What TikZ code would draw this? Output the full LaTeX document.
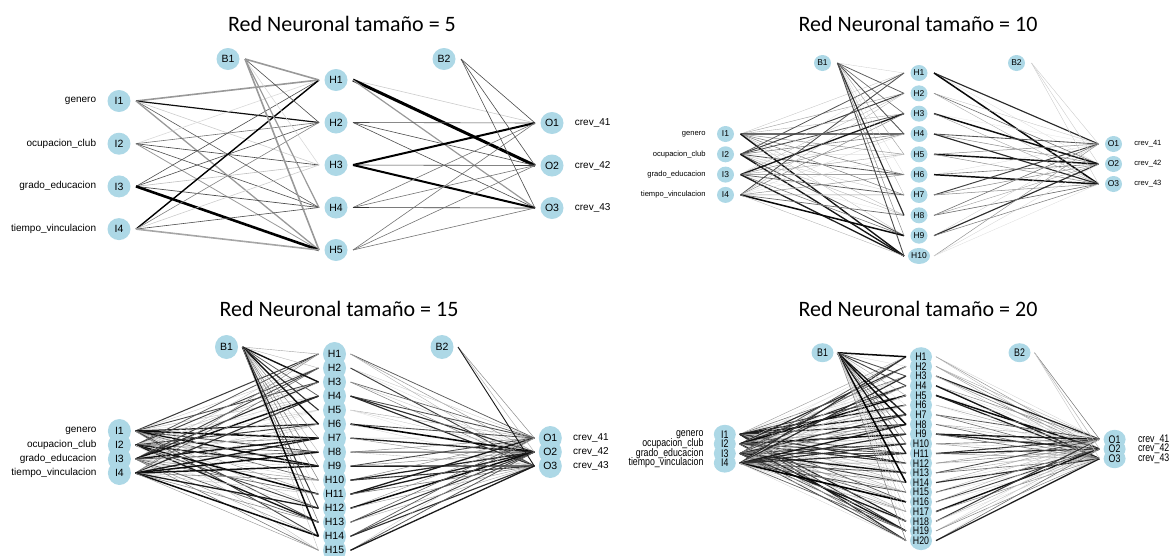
\documentclass[tikz,border=0pt]{standalone}
\usepackage{fontspec}
\setmainfont{Liberation Sans}
\newfontfamily\titlefont{Carlito}
\usetikzlibrary{positioning,shapes.geometric,backgrounds}
\definecolor{neuronblue}{HTML}{ADD8E6}
% narrow lettering for the crowded size-20 net
\newcommand\slimtext[1]{\scalebox{0.8}[1]{#1}}

\begin{document}
\begin{tikzpicture}[x=1pt,y=-1pt,
    neuron/.style={ellipse, fill=neuronblue, inner sep=0pt,
      minimum width=23pt, minimum height=22pt, font=\fontsize{10.5}{10.5}\selectfont},
    varname/.style={inner sep=0pt, font=\fontsize{10}{10}\selectfont},
    heading/.style={font=\titlefont\fontsize{22}{22}\selectfont}]
   \useasboundingbox (0,0) rectangle (1174,555);

   % ---- tamano 5 ----
   \node[heading] at (342,24) {Red Neuronal tamaño = 5};
   \node[neuron] (p5-B1) at (228,59) {B1};
   \node[neuron] (p5-B2) at (444,59) {B2};
   \foreach \v [count=\i] in {genero,ocupacion\_club,grado\_educacion,tiempo\_vinculacion} {
     \node[neuron] (p5-I\i) at (119,{101+(\i-1)*42.7}) {I\i};
     \node[varname, left=11pt of p5-I\i] {\v};
   }
   \foreach \h in {1,...,5}
     \node[neuron] (p5-H\h) at (336,{80+(\h-1)*42.5}) {H\h};
   \foreach \o in {1,2,3} {
     \node[neuron] (p5-O\o) at (552,{123+(\o-1)*42.5}) {O\o};
     \node[varname, right=11pt of p5-O\o] {crev\_4\o};
   }
   \begin{pgfonlayer}{background}
   \foreach \s/\t/\c/\w in {I1/H1/40/1.6, I1/H2/95/1.2, I1/H3/20/0.6, I1/H4/65/0.6, I1/H5/40/1.3,
       I2/H1/15/0.6, I2/H2/55/0.6, I2/H3/75/0.6, I2/H4/70/0.6, I2/H5/40/0.8,
       I3/H1/70/0.6, I3/H2/70/0.6, I3/H3/25/0.6, I3/H4/70/0.7, I3/H5/100/2.6,
       I4/H1/100/1.4, I4/H2/50/0.6, I4/H3/20/0.6, I4/H4/70/0.6, I4/H5/35/1.6,
       B1/H1/40/1.6, B1/H2/70/0.6, B1/H3/15/0.6, B1/H4/40/1.2, B1/H5/40/1.6}
     \draw[line width=\w pt, draw=black!\c] ([xshift=17pt]p5-\s.center) -- ([xshift=-17pt]p5-\t.center);
   \foreach \s/\t/\c/\w in {H1/O1/20/0.6, H1/O2/100/3, H1/O3/40/1.2,
       H2/O1/70/0.6, H2/O2/70/0.6, H2/O3/70/0.6,
       H3/O1/100/2, H3/O2/75/0.6, H3/O3/100/2,
       H4/O1/55/0.6, H4/O2/55/0.6, H4/O3/80/0.6,
       H5/O1/55/0.6, H5/O2/55/0.6, H5/O3/55/0.6,
       B2/O1/70/0.6, B2/O2/70/0.6, B2/O3/70/0.6}
     \draw[line width=\w pt, draw=black!\c] ([xshift=17pt]p5-\s.center) -- ([xshift=-17pt]p5-\t.center);
   \end{pgfonlayer}

   % ---- tamano 10 ----
   \begin{scope}[neuron/.append style={minimum width=17pt, minimum height=16pt,
       font=\fontsize{8.5}{8.5}\selectfont},
     varname/.append style={font=\fontsize{7.6}{7.6}\selectfont}]
   \node[heading] at (918,24) {Red Neuronal tamaño = 10};
   \node[neuron] (p10-B1) at (822.5,63) {B1};
   \node[neuron] (p10-B2) at (1016.5,63) {B2};
   \foreach \v [count=\i] in {genero,ocupacion\_club,grado\_educacion,tiempo\_vinculacion} {
     \node[neuron] (p10-I\i) at (725.5,{134+(\i-1)*20.3}) {I\i};
     \node[varname, left=11pt of p10-I\i] {\v};
   }
   \foreach \h in {1,...,10}
     \node[neuron] (p10-H\h) at (919,{73+(\h-1)*20.33}) {H\h};
   \foreach \o in {1,2,3} {
     \node[neuron] (p10-O\o) at (1113.5,{144+(\o-1)*20}) {O\o};
     \node[varname, right=12pt of p10-O\o] {crev\_4\o};
   }
   \pgfmathsetseed{1010}
   \begin{pgfonlayer}{background}
   \foreach \s in {I1,I2,I3,I4,B1} \foreach \t in {1,...,10} {
     \pgfmathsetmacro\wt{rnd}
     \pgfmathsetmacro\tone{int(10+90*\wt)}
     \pgfmathsetmacro\lw{0.3+1.3*\wt*\wt}
     \draw[line width=\lw pt, draw=black!\tone] ([xshift=15pt]p10-\s.center) -- ([xshift=-15pt]p10-H\t.center);
   }
   \foreach \s in {1,...,10} \foreach \t in {O1,O2,O3} {
     \pgfmathsetmacro\wt{rnd}
     \pgfmathsetmacro\tone{int(10+90*\wt)}
     \pgfmathsetmacro\lw{0.3+1.3*\wt*\wt}
     \draw[line width=\lw pt, draw=black!\tone] ([xshift=15pt]p10-H\s.center) -- ([xshift=-15pt]p10-\t.center);
   }
   \foreach \t in {O1,O2,O3}
     \draw[line width=0.4pt, draw=black!20] ([xshift=15pt]p10-B2.center) -- ([xshift=-15pt]p10-\t.center);
   \end{pgfonlayer}
   \end{scope}

   % ---- tamano 15 ----
   \begin{scope}[neuron/.append style={minimum width=23pt, minimum height=24pt,
       font=\fontsize{10.5}{10.5}\selectfont}]
   \node[heading] at (339,309) {Red Neuronal tamaño = 15};
   \node[neuron] (p15-B1) at (226.5,347) {B1};
   \node[neuron] (p15-B2) at (442,347) {B2};
   \foreach \v [count=\i] in {genero,ocupacion\_club,grado\_educacion,tiempo\_vinculacion}
     \node[neuron] (p15-I\i) at (119.4,{431+(\i-1)*14}) {};
   \foreach \h in {1,...,15}
     \node[neuron] (p15-H\h) at (334.5,{354+(\h-1)*14.02}) {};
   \foreach \o in {1,2,3}
     \node[neuron] (p15-O\o) at (550.3,{438+(\o-1)*14}) {};
   % labels go on top of the stacked circles
   \foreach \v [count=\i] in {genero,ocupacion\_club,grado\_educacion,tiempo\_vinculacion} {
     \node[font=\fontsize{10.5}{10.5}\selectfont] at (p15-I\i) {I\i};
     \node[varname, left=11pt of p15-I\i] {\v};
   }
   \foreach \h in {1,...,15}
     \node[font=\fontsize{10.5}{10.5}\selectfont] at (p15-H\h) {H\h};
   \foreach \o in {1,2,3} {
     \node[font=\fontsize{10.5}{10.5}\selectfont] at (p15-O\o) {O\o};
     \node[varname, right=11pt of p15-O\o] {crev\_4\o};
   }
   \pgfmathsetseed{1515}
   \begin{pgfonlayer}{background}
   \foreach \s in {I1,I2,I3,I4,B1} \foreach \t in {1,...,15} {
     \pgfmathsetmacro\wt{rnd}
     \pgfmathsetmacro\tone{int(10+90*\wt)}
     \pgfmathsetmacro\lw{0.3+1.3*\wt*\wt}
     \draw[line width=\lw pt, draw=black!\tone] ([xshift=16pt]p15-\s.center) -- ([xshift=-16pt]p15-H\t.center);
   }
   \foreach \s in {1,...,15} \foreach \t in {O1,O2,O3} {
     \pgfmathsetmacro\wt{rnd}
     \pgfmathsetmacro\tone{int(10+90*\wt)}
     \pgfmathsetmacro\lw{0.3+1.3*\wt*\wt}
     \draw[line width=\lw pt, draw=black!\tone] ([xshift=16pt]p15-H\s.center) -- ([xshift=-16pt]p15-\t.center);
   }
   \draw[line width=0.5pt, draw=black!45] ([xshift=16pt]p15-B2.center) -- ([xshift=-16pt]p15-O1.center);
   \draw[line width=0.5pt, draw=black!30] ([xshift=16pt]p15-B2.center) -- ([xshift=-16pt]p15-O2.center);
   \draw[line width=0.9pt, draw=black!90] ([xshift=16pt]p15-B2.center) -- ([xshift=-16pt]p15-O3.center);
   \end{pgfonlayer}
   \end{scope}

   % ---- tamano 20 ----
   \begin{scope}[neuron/.append style={minimum width=22pt, minimum height=19pt},
     varname/.append style={font=\fontsize{11}{11}\selectfont}]
   \node[heading] at (918,309) {Red Neuronal tamaño = 20};
   \node[neuron, font=\fontsize{11}{11}\selectfont] (p20-B1) at (822.5,352.7) {\slimtext{B1}};
   \node[neuron, font=\fontsize{11}{11}\selectfont] (p20-B2) at (1019.5,352.7) {\slimtext{B2}};
   \foreach \i in {1,...,4}
     \node[neuron] (p20-I\i) at (724.8,{434.3+(\i-1)*9.6}) {};
   \foreach \h in {1,...,20}
     \node[neuron] (p20-H\h) at (921,{356.7+(\h-1)*9.68}) {};
   \foreach \o in {1,2,3}
     \node[neuron] (p20-O\o) at (1114.6,{439.3+(\o-1)*9.7}) {};
   \foreach \v [count=\i] in {genero,ocupacion\_club,grado\_educacion,tiempo\_vinculacion} {
     \node[font=\fontsize{11}{11}\selectfont] at (p20-I\i) {\slimtext{I\i}};
     \node[varname, left=10pt of p20-I\i] {\slimtext{\v}};
   }
   \foreach \h in {1,...,20}
     \node[font=\fontsize{11}{11}\selectfont] at (p20-H\h) {\slimtext{H\h}};
   \foreach \o in {1,2,3} {
     \node[font=\fontsize{11}{11}\selectfont] at (p20-O\o) {\slimtext{O\o}};
     \node[varname, right=12pt of p20-O\o] {\slimtext{crev\_4\o}};
   }
   \pgfmathsetseed{2020}
   \begin{pgfonlayer}{background}
   \foreach \s in {I1,I2,I3,I4,B1} \foreach \t in {1,...,20} {
     \pgfmathsetmacro\wt{rnd}
     \pgfmathsetmacro\tone{int(10+90*\wt)}
     \pgfmathsetmacro\lw{0.3+1.3*\wt*\wt}
     \draw[line width=\lw pt, draw=black!\tone] ([xshift=15pt]p20-\s.center) -- ([xshift=-15pt]p20-H\t.center);
   }
   \foreach \s in {1,...,20} \foreach \t in {O1,O2,O3} {
     \pgfmathsetmacro\wt{rnd}
     \pgfmathsetmacro\tone{int(10+90*\wt)}
     \pgfmathsetmacro\lw{0.3+1.3*\wt*\wt}
     \draw[line width=\lw pt, draw=black!\tone] ([xshift=15pt]p20-H\s.center) -- ([xshift=-15pt]p20-\t.center);
   }
   \foreach \t/\c in {O1/55,O2/30,O3/20}
     \draw[line width=0.5pt, draw=black!\c] ([xshift=15pt]p20-B2.center) -- ([xshift=-15pt]p20-\t.center);
   \end{pgfonlayer}
   \end{scope}
\end{tikzpicture}
\end{document}
